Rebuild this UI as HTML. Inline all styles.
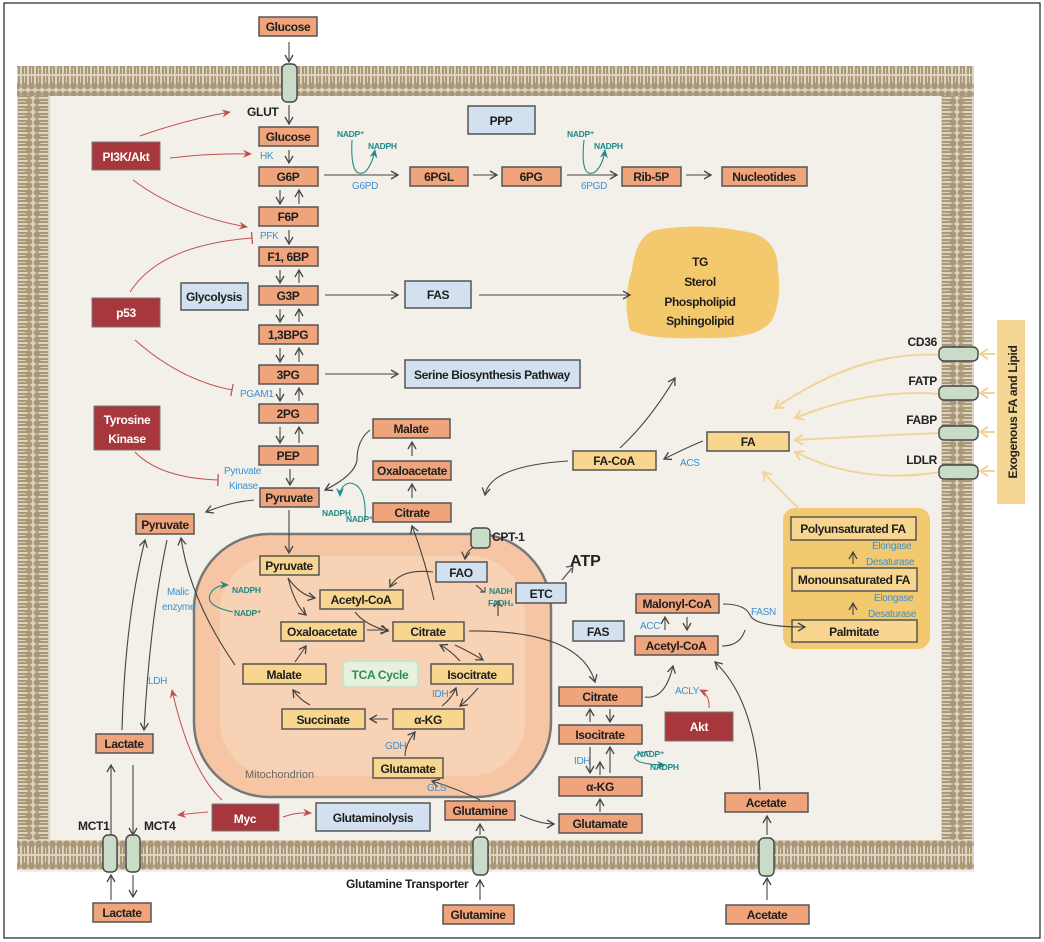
<!DOCTYPE html>
<html><head><meta charset="utf-8"><style>
html,body{margin:0;padding:0;background:#fff;}
svg{display:block;}
text{font-family:"Liberation Sans Narrow","Liberation Sans",sans-serif;}
.b{font-weight:bold;font-size:12px;letter-spacing:-0.4px;fill:#1e1e1e;text-anchor:middle;}
.w{font-weight:bold;font-size:12px;letter-spacing:-0.3px;fill:#fff;text-anchor:middle;}
.e{font-size:10px;fill:#3c8fd0;letter-spacing:-0.3px;}
.t{font-size:8.5px;fill:#1f8a86;font-weight:bold;letter-spacing:-0.3px;}
.o{fill:#f0a47c;stroke:#555;stroke-width:1.5;}
.y{fill:#f8d68f;stroke:#555;stroke-width:1.5;}
.r{fill:#a7373c;stroke:#777;stroke-width:1;}
.bl{fill:#d3e0ef;stroke:#555;stroke-width:1.5;}
.l{fill:none;stroke:#444;stroke-width:1.1;}
.rl{fill:none;stroke:#c0504d;stroke-width:1;}
.tl{fill:none;stroke:#1f8a86;stroke-width:1.1;}
.yl{fill:none;stroke:#f2d49a;stroke-width:2;}
.cyl{fill:#c9dcc7;stroke:#444;stroke-width:1.4;}
.lb{font-size:12px;font-weight:bold;fill:#222;letter-spacing:-0.3px;}
</style></head><body>
<svg width="1044" height="942" viewBox="0 0 1044 942" xmlns="http://www.w3.org/2000/svg">
<defs>
<marker id="a" markerWidth="10" markerHeight="10" refX="8" refY="5" orient="auto" markerUnits="userSpaceOnUse"><path d="M1,1 L8,5 L1,9" fill="none" stroke="#444" stroke-width="1.3"/></marker>
<marker id="ar" markerWidth="10" markerHeight="10" refX="8" refY="5" orient="auto" markerUnits="userSpaceOnUse"><path d="M0,1 L9,5 L0,9 L3,5z" fill="#c0504d"/></marker>
<marker id="at" markerWidth="10" markerHeight="10" refX="8" refY="5" orient="auto" markerUnits="userSpaceOnUse"><path d="M0,1 L9,5 L0,9 L3,5z" fill="#1f8a86"/></marker>
<marker id="ay" markerWidth="12" markerHeight="12" refX="9" refY="6" orient="auto" markerUnits="userSpaceOnUse"><path d="M1,1 L9,6 L1,11" fill="none" stroke="#f2d49a" stroke-width="2"/></marker>
<marker id="tb" markerWidth="4" markerHeight="12" refX="2" refY="6" orient="auto" markerUnits="userSpaceOnUse"><path d="M2,0 L2,12" stroke="#c0504d" stroke-width="1.3"/></marker>
<pattern id="mh" width="7" height="30" patternUnits="userSpaceOnUse">
<rect width="7" height="30" fill="#ddd3c0"/>
<circle cx="3.5" cy="4" r="3.4" fill="#a99878"/><circle cx="3.5" cy="26" r="3.4" fill="#a99878"/>
<rect x="1" y="6" width="2" height="8" fill="#a99878"/><rect x="4" y="6" width="2" height="8" fill="#a99878"/>
<rect x="1" y="16" width="2" height="8" fill="#a99878"/><rect x="4" y="16" width="2" height="8" fill="#a99878"/>
</pattern>
<pattern id="mv" width="33" height="7" patternUnits="userSpaceOnUse">
<rect width="33" height="7" fill="#ddd3c0"/>
<circle cx="4" cy="3.5" r="3.4" fill="#a99878"/><circle cx="29" cy="3.5" r="3.4" fill="#a99878"/>
<rect x="6" y="1" width="9" height="2" fill="#a99878"/><rect x="6" y="4" width="9" height="2" fill="#a99878"/>
<rect x="18" y="1" width="9" height="2" fill="#a99878"/><rect x="18" y="4" width="9" height="2" fill="#a99878"/>
</pattern>
</defs>
<rect x="4" y="3" width="1036" height="935" fill="#fff" stroke="#222" stroke-width="1.2"/>
<rect x="17" y="66" width="957" height="806" fill="#f3f0ea"/>
<rect x="17" y="66" width="957" height="30" fill="url(#mh)"/>
<rect x="17" y="840" width="957" height="30" fill="url(#mh)"/>
<rect x="17" y="96" width="33" height="744" fill="url(#mv)"/>
<rect x="941" y="96" width="33" height="744" fill="url(#mv)"/>
<rect x="194" y="534" width="357" height="263" rx="75" fill="#f6c6a4" stroke="#777" stroke-width="2.5"/>
<rect x="220" y="556" width="305" height="220" rx="55" fill="#f8d2b4"/>
<text x="245" y="778" font-size="11" fill="#666">Mitochondrion</text>
<path d="M655,230 Q700,222 748,232 Q778,238 778,270 Q782,300 772,320 Q760,340 700,338 Q650,340 630,330 Q622,300 632,270 Q636,236 655,230z" fill="#f4c96e"/>
<text class="b" x="700" y="266">TG</text><text class="b" x="700" y="286">Sterol</text><text class="b" x="700" y="306">Phospholipid</text><text class="b" x="700" y="325">Sphingolipid</text>
<rect x="783" y="508" width="147" height="141" rx="12" fill="#f2c96f"/>
<rect x="997" y="320" width="28" height="184" fill="#f4d591"/>
<text x="1017" y="412" font-size="12" font-weight="bold" fill="#222" text-anchor="middle" letter-spacing="-0.3" transform="rotate(-90 1017 412)">Exogenous FA and Lipid</text>

<g>
<rect class="o" x="259" y="17" width="58" height="19"/><text class="b" x="288" y="31">Glucose</text>
<rect class="o" x="259" y="127" width="59" height="19"/><text class="b" x="288" y="141">Glucose</text>
<rect class="o" x="259" y="167" width="59" height="19"/><text class="b" x="288" y="181">G6P</text>
<rect class="o" x="259" y="207" width="59" height="19"/><text class="b" x="288" y="221">F6P</text>
<rect class="o" x="259" y="247" width="59" height="19"/><text class="b" x="288" y="261">F1, 6BP</text>
<rect class="o" x="259" y="286" width="59" height="19"/><text class="b" x="288" y="300">G3P</text>
<rect class="o" x="259" y="325" width="59" height="19"/><text class="b" x="288" y="339">1,3BPG</text>
<rect class="o" x="259" y="365" width="59" height="19"/><text class="b" x="288" y="379">3PG</text>
<rect class="o" x="259" y="404" width="59" height="19"/><text class="b" x="288" y="418">2PG</text>
<rect class="o" x="259" y="446" width="59" height="19"/><text class="b" x="288" y="460">PEP</text>
<rect class="o" x="260" y="488" width="59" height="19"/><text class="b" x="289" y="502">Pyruvate</text>
<rect class="o" x="410" y="167" width="58" height="19"/><text class="b" x="439" y="181">6PGL</text>
<rect class="o" x="502" y="167" width="59" height="19"/><text class="b" x="531" y="181">6PG</text>
<rect class="o" x="622" y="167" width="59" height="19"/><text class="b" x="651" y="181">Rib-5P</text>
<rect class="o" x="722" y="167" width="85" height="19"/><text class="b" x="764" y="181">Nucleotides</text>
<rect class="o" x="373" y="419" width="77" height="19"/><text class="b" x="411" y="433">Malate</text>
<rect class="o" x="373" y="461" width="78" height="19"/><text class="b" x="412" y="475">Oxaloacetate</text>
<rect class="o" x="373" y="503" width="78" height="19"/><text class="b" x="412" y="517">Citrate</text>
<rect class="o" x="136" y="514" width="58" height="20"/><text class="b" x="165" y="529">Pyruvate</text>
<rect class="o" x="636" y="594" width="83" height="19"/><text class="b" x="677" y="608">Malonyl-CoA</text>
<rect class="o" x="635" y="636" width="83" height="19"/><text class="b" x="676" y="650">Acetyl-CoA</text>
<rect class="o" x="559" y="687" width="83" height="19"/><text class="b" x="600" y="701">Citrate</text>
<rect class="o" x="559" y="725" width="83" height="19"/><text class="b" x="600" y="739">Isocitrate</text>
<rect class="o" x="559" y="777" width="83" height="19"/><text class="b" x="600" y="791">α-KG</text>
<rect class="o" x="559" y="814" width="83" height="19"/><text class="b" x="600" y="828">Glutamate</text>
<rect class="o" x="725" y="793" width="83" height="19"/><text class="b" x="766" y="807">Acetate</text>
<rect class="o" x="726" y="905" width="83" height="19"/><text class="b" x="767" y="919">Acetate</text>
<rect class="o" x="445" y="801" width="70" height="19"/><text class="b" x="480" y="815">Glutamine</text>
<rect class="o" x="443" y="905" width="71" height="19"/><text class="b" x="478" y="919">Glutamine</text>
<rect class="o" x="96" y="734" width="57" height="19"/><text class="b" x="124" y="748">Lactate</text>
<rect class="o" x="93" y="903" width="58" height="19"/><text class="b" x="122" y="917">Lactate</text>
</g>
<g>
<rect class="y" x="260" y="556" width="59" height="19"/><text class="b" x="289" y="570">Pyruvate</text>
<rect class="y" x="320" y="590" width="83" height="19"/><text class="b" x="361" y="604">Acetyl-CoA</text>
<rect class="y" x="281" y="622" width="83" height="19"/><text class="b" x="322" y="636">Oxaloacetate</text>
<rect class="y" x="393" y="622" width="71" height="19"/><text class="b" x="428" y="636">Citrate</text>
<rect class="y" x="243" y="664" width="83" height="20"/><text class="b" x="284" y="679">Malate</text>
<rect x="343" y="661" width="75" height="26" fill="#e6f2df" stroke="#cfe0c4" stroke-width="2" rx="4"/><text x="380" y="679" font-size="12" font-weight="bold" fill="#2e8b57" text-anchor="middle" letter-spacing="-0.3">TCA Cycle</text>
<rect class="y" x="431" y="664" width="82" height="20"/><text class="b" x="472" y="679">Isocitrate</text>
<rect class="y" x="282" y="709" width="83" height="20"/><text class="b" x="323" y="724">Succinate</text>
<rect class="y" x="393" y="709" width="71" height="20"/><text class="b" x="428" y="724">α-KG</text>
<rect class="y" x="373" y="758" width="70" height="20"/><text class="b" x="408" y="773">Glutamate</text>
<rect class="y" x="707" y="432" width="82" height="19"/><text class="b" x="748" y="446">FA</text>
<rect class="y" x="573" y="451" width="83" height="19"/><text class="b" x="614" y="465">FA-CoA</text>
<rect class="y" x="791" y="517" width="125" height="23"/><text class="b" x="853" y="533">Polyunsaturated FA</text>
<rect class="y" x="792" y="568" width="125" height="23"/><text class="b" x="854" y="584">Monounsaturated FA</text>
<rect class="y" x="792" y="620" width="125" height="22"/><text class="b" x="854" y="636">Palmitate</text>
</g>
<rect class="bl" x="468" y="106" width="67" height="28"/><text class="b" x="501" y="125">PPP</text>
<rect class="bl" x="405" y="281" width="66" height="27"/><text class="b" x="438" y="299">FAS</text>
<rect class="bl" x="405" y="360" width="175" height="28"/><text class="b" x="492" y="379">Serine Biosynthesis Pathway</text>
<rect class="bl" x="181" y="283" width="67" height="27"/><text class="b" x="214" y="301">Glycolysis</text>
<rect class="bl" x="436" y="562" width="51" height="20"/><text class="b" x="461" y="577">FAO</text>
<rect class="bl" x="516" y="583" width="50" height="20"/><text class="b" x="541" y="598">ETC</text>
<rect class="bl" x="573" y="621" width="51" height="20"/><text class="b" x="598" y="636">FAS</text>
<rect class="bl" x="316" y="803" width="114" height="28"/><text class="b" x="373" y="822">Glutaminolysis</text>
<rect class="r" x="92" y="142" width="68" height="28"/><text class="w" x="126" y="161">PI3K/Akt</text>
<rect class="r" x="92" y="298" width="68" height="29"/><text class="w" x="126" y="317">p53</text>
<rect class="r" x="94" y="406" width="66" height="44"/><text class="w" x="127" y="424">Tyrosine</text><text class="w" x="127" y="443">Kinase</text>
<rect class="r" x="665" y="712" width="68" height="29"/><text class="w" x="699" y="731">Akt</text>
<rect class="r" x="212" y="804" width="67" height="27"/><text class="w" x="245" y="823">Myc</text>

<g class="l">
<path d="M289,42 L289,62" marker-end="url(#a)"/><path d="M289,105 L289,124" marker-end="url(#a)"/>
<path d="M289,150 L289,163" marker-end="url(#a)"/>
<path d="M280,190 L280,204" marker-end="url(#a)"/><path d="M299,204 L299,190" marker-end="url(#a)"/>
<path d="M289,230 L289,244" marker-end="url(#a)"/>
<path d="M280,270 L280,283" marker-end="url(#a)"/><path d="M299,283 L299,270" marker-end="url(#a)"/>
<path d="M280,309 L280,322" marker-end="url(#a)"/><path d="M299,322 L299,309" marker-end="url(#a)"/>
<path d="M280,348 L280,362" marker-end="url(#a)"/><path d="M299,362 L299,348" marker-end="url(#a)"/>
<path d="M280,388 L280,401" marker-end="url(#a)"/><path d="M299,401 L299,388" marker-end="url(#a)"/>
<path d="M280,427 L280,443" marker-end="url(#a)"/><path d="M299,443 L299,427" marker-end="url(#a)"/>
<path d="M290,469 L290,485" marker-end="url(#a)"/>
<path d="M289,510 L289,553" marker-end="url(#a)"/>
<path d="M324,175 L398,175" marker-end="url(#a)"/><path d="M473,175 L497,175" marker-end="url(#a)"/>
<path d="M567,175 L617,175" marker-end="url(#a)"/><path d="M686,175 L711,175" marker-end="url(#a)"/>
<path d="M325,295 L398,295" marker-end="url(#a)"/><path d="M479,295 L630,295" marker-end="url(#a)"/>
<path d="M325,374 L398,374" marker-end="url(#a)"/>
<path d="M254,500 Q230,502 206,512" marker-end="url(#a)"/>
<path d="M370,430 Q357,440 357,460 Q355,475 325,490" marker-end="url(#a)"/>
<path d="M412,498 L412,484" marker-end="url(#a)"/><path d="M412,456 L412,442" marker-end="url(#a)"/>
<path d="M434,600 Q425,560 412,526" marker-end="url(#a)"/>
<path d="M122,730 Q125,620 145,540" marker-end="url(#a)"/><path d="M167,540 Q150,620 144,730" marker-end="url(#a)"/>
<path d="M235,665 Q190,600 181,538" marker-end="url(#a)"/>
<path d="M111,835 L111,765" marker-end="url(#a)"/><path d="M133,765 L133,835" marker-end="url(#a)"/>
<path d="M111,900 L111,875" marker-end="url(#a)"/><path d="M133,875 L133,897" marker-end="url(#a)"/>
<path d="M480,900 L480,880" marker-end="url(#a)"/><path d="M480,835 L480,824" marker-end="url(#a)"/>
<path d="M767,900 L767,878" marker-end="url(#a)"/><path d="M767,835 L767,816" marker-end="url(#a)"/>
<path d="M480,800 Q460,790 432,781" marker-end="url(#a)"/>
<path d="M520,815 Q540,824 554,824" marker-end="url(#a)"/>
<path d="M600,775 L600,762" marker-end="url(#a)"/><path d="M590,747 L590,773" marker-end="url(#a)"/><path d="M610,773 L610,747" marker-end="url(#a)"/>
<path d="M600,812 L600,799" marker-end="url(#a)"/>
<path d="M590,722 L590,709" marker-end="url(#a)"/><path d="M610,709 L610,722" marker-end="url(#a)"/>
<path d="M645,697 Q665,700 673,666" marker-end="url(#a)"/>
<path d="M760,790 Q755,700 715,662" marker-end="url(#a)"/>
<path d="M665,630 L665,617" marker-end="url(#a)"/><path d="M687,617 L687,630" marker-end="url(#a)"/>
<path d="M723,604 Q745,604 750,615 Q755,627 805,627" marker-end="url(#a)"/>
<path d="M722,646 Q740,646 745,630"/>
<path d="M853,564 L853,552" marker-end="url(#a)"/><path d="M853,615 L853,603" marker-end="url(#a)"/>
<path d="M469,631 Q580,630 595,682" marker-end="url(#a)"/>
<path d="M620,448 Q650,420 675,378" marker-end="url(#a)"/>
<path d="M703,441 Q690,446 664,459" marker-end="url(#a)"/>
<path d="M568,461 Q490,466 485,495" marker-end="url(#a)"/>
<path d="M478,545 Q466,550 465,559" marker-end="url(#a)"/>
<path d="M433,572 Q400,568 390,587" marker-end="url(#a)"/>
<path d="M288,578 Q300,595 315,598" marker-end="url(#a)"/>
<path d="M288,578 Q295,605 306,615" marker-end="url(#a)"/>
<path d="M355,612 Q365,625 388,631" marker-end="url(#a)"/>
<path d="M367,630 L388,630" marker-end="url(#a)"/>
<path d="M460,661 Q450,650 440,645" marker-end="url(#a)"/><path d="M455,645 Q470,652 483,660" marker-end="url(#a)"/>
<path d="M442,706 Q452,698 456,688" marker-end="url(#a)"/><path d="M478,688 Q470,698 460,706" marker-end="url(#a)"/>
<path d="M388,719 L370,719" marker-end="url(#a)"/>
<path d="M310,705 Q300,700 293,690" marker-end="url(#a)"/>
<path d="M295,662 Q300,655 306,646" marker-end="url(#a)"/>
<path d="M405,756 Q405,745 415,732" marker-end="url(#a)"/>
</g>
<path d="M476,585 L484,592 M480,592 L485,592 L485,587" stroke="#555" fill="none" stroke-width="1.2"/>
<path d="M498,616 L498,603 M494,607 L498,601 L502,607" stroke="#555" fill="none" stroke-width="1.3"/>
<path d="M562,580 L572,568 M566,567 L573,566 L572,573" stroke="#555" fill="none" stroke-width="1.3"/>
<text x="570" y="566" font-size="16" font-weight="bold" fill="#222">ATP</text>
<text x="492" y="541" class="lb">CPT-1</text>
<g>
<path class="rl" d="M140,136 Q185,120 230,112" marker-end="url(#ar)"/>
<path class="rl" d="M170,158 Q210,153 251,154" marker-end="url(#ar)"/>
<path class="rl" d="M133,180 Q180,215 247,227" marker-end="url(#ar)"/>
<path class="rl" d="M130,292 Q160,245 252,238" marker-end="url(#tb)"/>
<path class="rl" d="M135,340 Q180,380 232,390" marker-end="url(#tb)"/>
<path class="rl" d="M135,452 Q160,478 218,480" marker-end="url(#tb)"/>
<path class="rl" d="M222,800 Q190,770 172,690" marker-end="url(#ar)"/>
<path class="rl" d="M208,812 Q195,813 178,815" marker-end="url(#ar)"/>
<path class="rl" d="M283,817 Q296,812 311,813" marker-end="url(#ar)"/>
<path class="rl" d="M709,708 Q710,695 700,690" marker-end="url(#ar)"/>
</g>
<path class="tl" d="M352,140 Q350,180 365,172 Q372,165 375,150" marker-end="url(#at)"/>
<path class="tl" d="M584,140 Q580,180 595,172 Q603,165 605,150" marker-end="url(#at)"/>
<path class="tl" d="M365,520 Q367,485 350,483 Q340,485 340,496" marker-end="url(#at)"/>
<path class="tl" d="M233,612 Q200,605 213,590 Q218,585 228,585" marker-end="url(#at)"/>
<path class="tl" d="M651,751 Q625,755 640,762 Q650,765 665,765" marker-end="url(#at)"/>
<text class="t" x="337" y="137">NADP⁺</text><text class="t" x="368" y="149">NADPH</text>
<text class="t" x="567" y="137">NADP⁺</text><text class="t" x="594" y="149">NADPH</text>
<text class="t" x="322" y="516">NADPH</text><text class="t" x="346" y="522">NADP⁺</text>
<text class="t" x="232" y="593">NADPH</text><text class="t" x="234" y="616">NADP⁺</text>
<text class="t" x="637" y="757">NADP⁺</text><text class="t" x="650" y="770">NADPH</text>
<text class="t" x="489" y="594">NADH</text><text class="t" x="488" y="606">FADH₂</text>
<text class="e" x="260" y="159">HK</text><text class="e" x="352" y="189">G6PD</text><text class="e" x="581" y="189">6PGD</text>
<text class="e" x="260" y="239">PFK</text><text class="e" x="240" y="397">PGAM1</text>
<text class="e" x="224" y="474">Pyruvate</text><text class="e" x="229" y="489">Kinase</text>
<text class="e" x="167" y="595">Malic</text><text class="e" x="162" y="610">enzyme</text>
<text class="e" x="148" y="684">LDH</text><text class="e" x="432" y="697">IDH</text><text class="e" x="385" y="749">GDH</text><text class="e" x="427" y="791">GLS</text>
<text class="e" x="574" y="764">IDH</text><text class="e" x="675" y="694">ACLY</text><text class="e" x="640" y="629">ACC</text><text class="e" x="751" y="615">FASN</text><text class="e" x="680" y="466">ACS</text>
<text class="e" x="872" y="549">Elongase</text><text class="e" x="866" y="565">Desaturase</text>
<text class="e" x="874" y="601">Elongase</text><text class="e" x="868" y="617">Desaturase</text>
<path class="yl" d="M940,355 Q860,350 775,408" marker-end="url(#ay)"/>
<path class="yl" d="M940,394 Q870,388 795,418" marker-end="url(#ay)"/>
<path class="yl" d="M940,433 Q870,436 795,440" marker-end="url(#ay)"/>
<path class="yl" d="M940,472 Q860,485 795,452" marker-end="url(#ay)"/>
<path class="yl" d="M800,510 Q780,490 763,472" marker-end="url(#ay)"/>
<path class="yl" d="M995,354 L980,354" marker-end="url(#ay)"/><path class="yl" d="M995,393 L980,393" marker-end="url(#ay)"/>
<path class="yl" d="M995,432 L980,432" marker-end="url(#ay)"/><path class="yl" d="M995,471 L980,471" marker-end="url(#ay)"/>
<rect class="cyl" x="282" y="64" width="15" height="38" rx="5"/>
<rect class="cyl" x="103" y="835" width="14" height="37" rx="5"/><rect class="cyl" x="126" y="835" width="14" height="37" rx="5"/>
<rect class="cyl" x="473" y="837" width="15" height="38" rx="5"/>
<rect class="cyl" x="759" y="838" width="15" height="38" rx="5"/>
<rect class="cyl" x="939" y="347" width="39" height="14" rx="5"/><rect class="cyl" x="939" y="386" width="39" height="14" rx="5"/>
<rect class="cyl" x="939" y="426" width="39" height="14" rx="5"/><rect class="cyl" x="939" y="465" width="39" height="14" rx="5"/>
<rect class="cyl" x="471" y="528" width="19" height="20" rx="4"/>
<text x="247" y="116" class="lb">GLUT</text>
<text x="78" y="830" class="lb">MCT1</text>
<text x="144" y="830" class="lb">MCT4</text>
<text x="346" y="888" class="lb">Glutamine Transporter</text>
<text x="937" y="346" class="lb" text-anchor="end">CD36</text>
<text x="937" y="385" class="lb" text-anchor="end">FATP</text>
<text x="937" y="424" class="lb" text-anchor="end">FABP</text>
<text x="937" y="464" class="lb" text-anchor="end">LDLR</text>
</svg>
</body></html>
